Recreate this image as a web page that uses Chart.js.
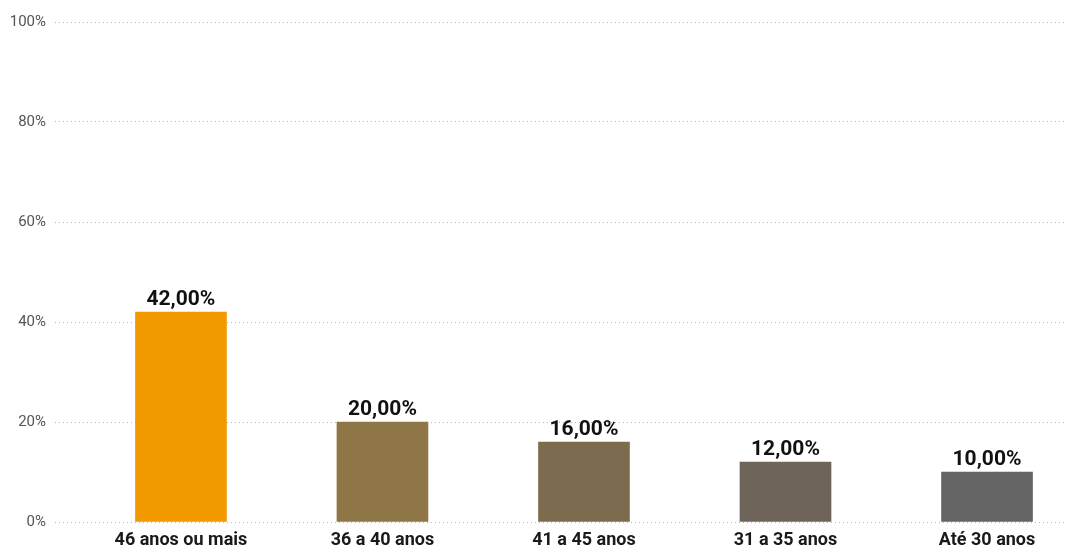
<!DOCTYPE html>
<html>
<head>
<meta charset="utf-8">
<script src="https://cdn.jsdelivr.net/npm/chart.js@4/dist/chart.umd.min.js"></script>
<style>
  html, body { margin: 0; padding: 0; background: #fff; }
  #wrap { width: 1067px; height: 548px; position: relative; }
</style>
</head>
<body>
<div id="wrap"><canvas id="chart"></canvas></div>
<script>
const categories = ['46 anos ou mais', '36 a 40 anos', '41 a 45 anos', '31 a 35 anos', 'Até 30 anos'];
const shares = [42, 20, 16, 12, 10];
const barColors = ['#F29900', '#8E7646', '#7D6B50', '#6F645A', '#646464'];
const yTicks = [0, 20, 40, 60, 80, 100];

const FONT = 'Roboto, "Liberation Sans", sans-serif';

const fmtPct = v => v.toFixed(2).replace('.', ',') + '%';

// value labels above each bar
const barLabels = {
  id: 'barLabels',
  afterDatasetsDraw(chart) {
    const ctx = chart.ctx;
    const meta = chart.getDatasetMeta(0);
    ctx.save();
    ctx.font = 'bold 21px ' + FONT;
    ctx.fillStyle = '#111';
    ctx.textAlign = 'center';
    ctx.textBaseline = 'bottom';
    meta.data.forEach((bar, i) => {
      ctx.fillText(fmtPct(shares[i]), bar.x, bar.y - 2);
    });
    ctx.restore();
  },
};

new Chart(document.getElementById('chart'), {
  type: 'bar',
  data: {
    datasets: [{
      data: shares.map((v, i) => ({ x: i, y: v })),
      backgroundColor: barColors,
      barThickness: 91,
    }],
  },
  options: {
    responsive: true,
    maintainAspectRatio: false,
    animation: false,
    layout: { padding: { top: 22, right: 2, left: 0, bottom: 0 } },
    plugins: { legend: { display: false }, tooltip: { enabled: false } },
    scales: {
      x: {
        type: 'linear',
        offset: false,
        min: -0.625,
        max: 4.387,
        grid: { display: false },
        border: { display: false },
        afterBuildTicks(axis) {
          axis.ticks = categories.map((_, i) => ({ value: i }));
        },
        afterFit(axis) { axis.height = 26; },
        ticks: {
          autoSkip: false,
          maxRotation: 0,
          padding: 0,
          color: '#1a1a1a',
          font: { family: FONT, size: 18, weight: 'bold' },
          callback: v => categories[v],
        },
      },
      y: {
        min: 0,
        max: 100,
        afterFit(axis) { axis.width = 55; },
        afterBuildTicks(axis) {
          axis.ticks = yTicks.map(v => ({ value: v }));
        },
        grid: { color: '#b8b8b8', drawTicks: false, lineWidth: 1 },
        border: { display: false, dash: [1, 3] },
        ticks: {
          padding: 9,
          color: '#555',
          font: { family: FONT, size: 15 },
          callback: v => v + '%',
        },
      },
    },
  },
  plugins: [barLabels],
});
</script>
</body>
</html>
